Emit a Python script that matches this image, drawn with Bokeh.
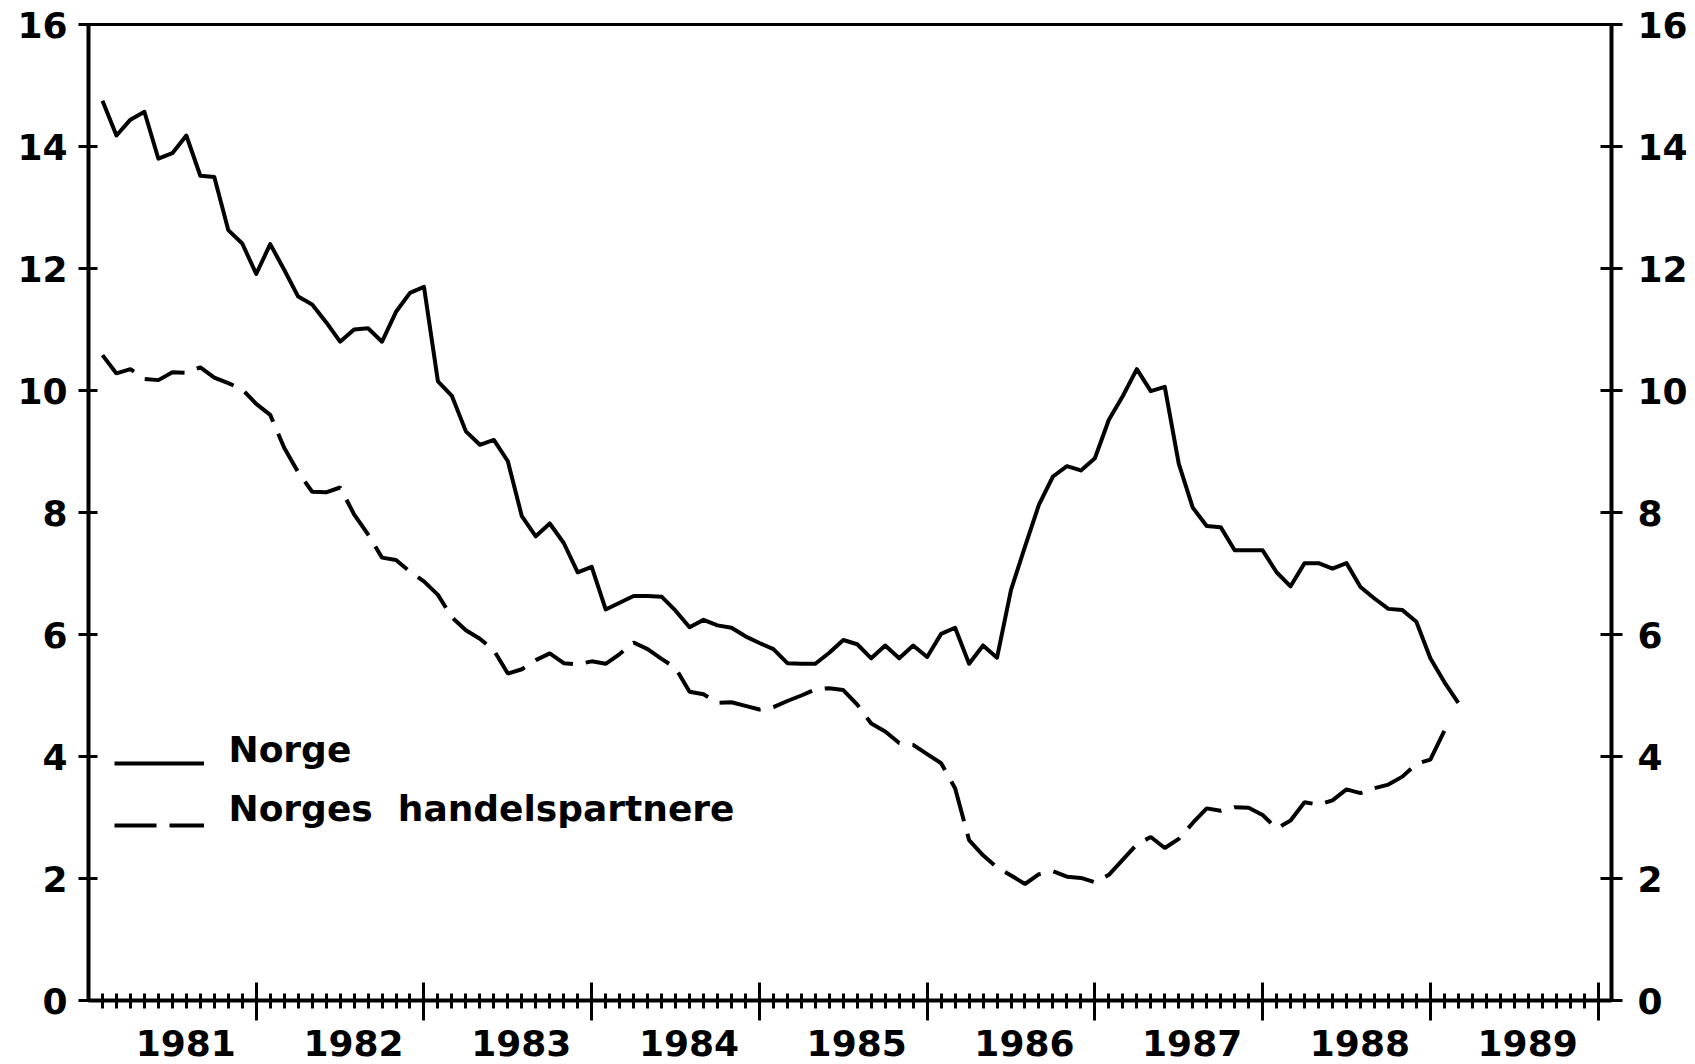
from bokeh.plotting import figure
from bokeh.models import (Range1d, LinearAxis, FixedTicker, Legend, LegendItem, Label)
from bokeh.embed import file_html
from bokeh.resources import INLINE

# ---- data (monthly, Jan 1981 onwards; per cent) ----
norge = [14.75, 14.18, 14.44, 14.57, 13.80, 13.89, 14.18, 13.52, 13.50, 12.63, 12.41, 11.91,
         12.40, 11.98, 11.54, 11.41, 11.12, 10.80, 11.00, 11.02, 10.80, 11.29, 11.60, 11.70,
         10.15, 9.91, 9.33, 9.11, 9.19, 8.84, 7.94, 7.61, 7.82, 7.50, 7.02, 7.11,
         6.41, 6.52, 6.63, 6.63, 6.62, 6.39, 6.12, 6.24, 6.15, 6.11, 5.97, 5.86,
         5.76, 5.53, 5.52, 5.52, 5.70, 5.91, 5.84, 5.61, 5.82, 5.61, 5.82, 5.63,
         6.01, 6.11, 5.52, 5.82, 5.62, 6.73, 7.44, 8.13, 8.59, 8.76, 8.69, 8.89,
         9.52, 9.91, 10.35, 9.99, 10.06, 8.80, 8.08, 7.78, 7.76, 7.38, 7.38, 7.38,
         7.02, 6.79, 7.17, 7.17, 7.08, 7.17, 6.78, 6.59, 6.42, 6.40, 6.21, 5.61,
         5.22, 4.88]
partnere = [10.58, 10.28, 10.35, 10.19, 10.17, 10.30, 10.29, 10.38, 10.21, 10.12, 10.02, 9.78,
            9.60, 9.06, 8.66, 8.34, 8.33, 8.41, 7.97, 7.64, 7.26, 7.22, 7.03, 6.87,
            6.65, 6.28, 6.07, 5.93, 5.74, 5.36, 5.43, 5.58, 5.69, 5.53, 5.51, 5.56,
            5.52, 5.68, 5.87, 5.76, 5.60, 5.45, 5.06, 5.02, 4.88, 4.89, 4.83, 4.77,
            4.81, 4.91, 5.00, 5.10, 5.12, 5.09, 4.85, 4.54, 4.41, 4.22, 4.19, 4.04,
            3.89, 3.48, 2.63, 2.38, 2.18, 2.05, 1.91, 2.07, 2.12, 2.03, 2.01, 1.94,
            2.06, 2.31, 2.56, 2.68, 2.50, 2.65, 2.91, 3.15, 3.11, 3.17, 3.16, 3.04,
            2.82, 2.95, 3.25, 3.21, 3.28, 3.46, 3.40, 3.48, 3.54, 3.67, 3.88, 3.95,
            4.42]
years = ["1981", "1982", "1983", "1984", "1985", "1986", "1987", "1988", "1989"]
y_ticks = [0, 2, 4, 6, 8, 10, 12, 14, 16]
series_names = ["Norge", "Norges\u00a0 handelspartnere"]

FIRST_YEAR = 1981
x_norge = [FIRST_YEAR + (i + 1) / 12 for i in range(len(norge))]
x_partnere = [FIRST_YEAR + (i + 1) / 12 for i in range(len(partnere))]

FONT = "DejaVu Sans"
FS = "36px"
FSTYLE = "bold"

p = figure(width=1690, height=1064,
           x_range=Range1d(1981, 1990.08), y_range=Range1d(0, 16),
           output_backend="svg", toolbar_location=None,
           x_axis_location=None, y_axis_location=None,
           min_border_left=88, min_border_right=78,
           min_border_top=24, min_border_bottom=64)
p.grid.visible = False
p.background_fill_color = "white"
p.border_fill_color = "white"
p.outline_line_color = "black"
p.outline_line_width = 3

yl = LinearAxis(ticker=FixedTicker(ticks=y_ticks, minor_ticks=[]))
yr = LinearAxis(ticker=FixedTicker(ticks=y_ticks, minor_ticks=[]))
for ax, tin, tout, so in ((yl, 9, 10, 11), (yr, 11, 11, 15)):
    ax.axis_line_width = 4
    ax.axis_line_color = "black"
    ax.major_tick_in = tin
    ax.major_tick_out = tout
    ax.major_tick_line_width = 3
    ax.minor_tick_line_color = None
    ax.major_label_standoff = so
    ax.major_label_text_font = FONT
    ax.major_label_text_font_size = FS
    ax.major_label_text_font_style = FSTYLE
    ax.major_label_text_color = "black"
p.add_layout(yl, "left")
p.add_layout(yr, "right")

# bottom axis: year boundaries + monthly ticks
year_bounds = list(range(1982, 1991))
months = [FIRST_YEAR + k / 12 for k in range(1, 109) if k % 12 != 0]
xa = LinearAxis(ticker=FixedTicker(ticks=year_bounds, minor_ticks=months))
xa.axis_line_width = 4
xa.axis_line_color = "black"
xa.major_tick_in = 18
xa.major_tick_out = 20
xa.major_tick_line_width = 3
xa.minor_tick_in = 7
xa.minor_tick_out = 8
xa.minor_tick_line_width = 3
xa.major_label_overrides = {t: "" for t in year_bounds}
xa.major_label_text_font_size = "1px"
xa.major_label_standoff = 0
p.add_layout(xa, "below")

# second bottom axis: year names centred in each year
label_pos = [FIRST_YEAR + k + 0.58 for k in range(len(years))]
xb = LinearAxis(ticker=FixedTicker(ticks=label_pos, minor_ticks=[]))
xb.axis_line_color = None
xb.major_tick_line_color = None
xb.major_tick_in = 0
xb.major_tick_out = 0
xb.minor_tick_line_color = None
xb.major_label_overrides = {t: y for t, y in zip(label_pos, years)}
xb.major_label_text_font = FONT
xb.major_label_text_font_size = FS
xb.major_label_text_font_style = FSTYLE
xb.major_label_text_color = "black"
xb.major_label_standoff = 9
p.add_layout(xb, "below")

r1 = p.line(x_norge, norge, line_color="black", line_width=4, line_join="round")
r2 = p.line(x_partnere, partnere, line_color="black", line_width=4,
            line_dash="42 13")

# legend: line samples via Legend, names as text next to them (sample sits at text baseline)
legend = Legend(items=[LegendItem(label="", renderers=[r1]),
                       LegendItem(label="", renderers=[r2])],
                location=(26, 160), glyph_width=90, glyph_height=30,
                label_height=30, label_width=0, spacing=32, label_standoff=0,
                padding=0, margin=0, border_line_color=None,
                background_fill_alpha=0, label_text_font_size="1px")
p.add_layout(legend)
for name, ymid in zip(series_names, (251, 192)):
    p.add_layout(Label(x=140, y=ymid, x_units="screen", y_units="screen",
                       text=name, text_baseline="middle", text_align="left",
                       text_font=FONT, text_font_size=FS, text_font_style=FSTYLE,
                       text_color="black"))

open("out.html", "w").write(file_html(p, INLINE))
